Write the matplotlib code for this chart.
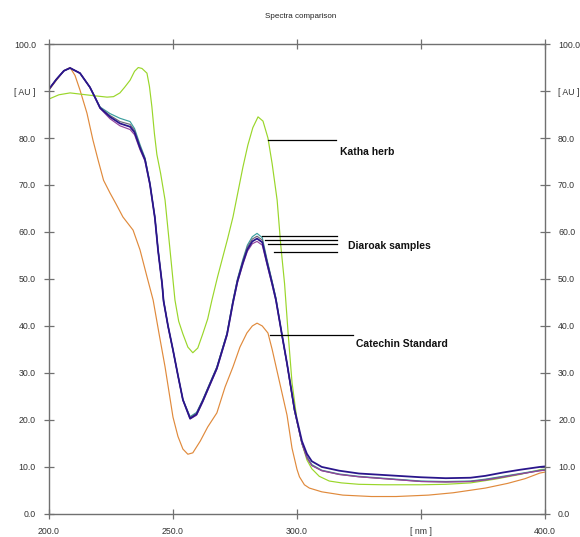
import matplotlib
matplotlib.use('Agg')
import matplotlib.pyplot as plt

# Katha herb (green)
katha_x = [200, 204, 208.5, 216.5, 223.4, 226, 228.6, 230.5, 232.7, 234.5, 236, 237.5, 239.5, 240.5,
           241.5, 242.5, 243.5, 245, 246.8, 248.8, 250.8, 252.3, 254, 256, 258, 260, 262, 264, 265.7,
           268, 270, 272, 274.2, 276.2, 278.2, 280.2, 282.2, 284.3, 286.3, 288.3, 290, 292, 293.5,
           295, 296.5, 298, 300, 302, 304, 306, 309, 313, 318, 325, 335, 350, 360, 370, 380, 390, 398, 400]
katha_y = [88.3, 89.2, 89.6, 89.1, 88.7, 88.8, 89.6, 90.8, 92.3, 94.2, 95.0, 94.8, 93.8, 91.0,
           86.6, 81.0, 76.5, 72.5, 66.8, 56.2, 45.5, 41.0, 38.3, 35.5, 34.3, 35.3, 38.3, 41.5, 45.5,
           50.5, 54.5, 58.5, 63.2, 68.5, 73.8, 78.5, 82.2, 84.5, 83.6, 80.0, 74.5, 66.8, 57.0,
           49.0, 38.0, 28.0, 20.0, 15.0, 11.5, 9.6, 8.0, 7.0, 6.6, 6.3, 6.2, 6.2, 6.3, 6.6, 7.4, 8.4, 9.4, 9.5]

# Diaroak samples (four runs on one wavelength grid)
dia_x = [200, 203, 206, 208.5, 212.5, 216.5, 218.5, 220.6, 224.6, 228.6, 232.7, 234.5, 236.7, 238.7,
         240.7, 242.7, 244, 245.6, 246.2, 248, 250, 252, 254, 256.9, 259.5, 262, 265, 267.7, 271.8,
         274.2, 276, 278.2, 280, 282, 283.9, 286, 287.9, 290, 291.5, 294, 296, 299, 302, 304, 306,
         310, 317, 325, 337.5, 350, 360, 370, 376, 383, 390, 398, 400]
dia_teal = [90.4, 92.5, 94.3, 94.9, 93.8, 90.8, 88.7, 86.6, 85.2, 84.2, 83.5, 82.0, 78.6, 75.8,
            70.4, 63.2, 56.2, 49.1, 45.5, 40.0, 34.9, 29.5, 24.3, 20.7, 21.6, 24.3, 28.0, 31.3, 38.5,
            45.5, 50.0, 54.2, 57.2, 59.0, 59.7, 58.8, 54.2, 49.5, 46.0, 38.0, 32.0, 22.0, 15.0, 12.2, 10.5,
            9.3, 8.5, 8.0, 7.5, 7.0, 6.9, 7.0, 7.4, 8.0, 8.6, 9.3, 9.4]
dia_gray = [90.4, 92.5, 94.3, 94.9, 93.8, 90.8, 88.7, 86.5, 84.8, 83.5, 82.9, 81.6, 78.2, 75.6,
            70.3, 63.1, 56.1, 49.0, 45.4, 40.0, 34.9, 29.5, 24.3, 20.5, 21.4, 24.2, 27.9, 31.2, 38.4,
            45.3, 49.8, 53.9, 56.8, 58.5, 59.1, 58.3, 53.9, 49.3, 45.8, 37.9, 31.9, 22.0, 15.0, 12.0, 10.3,
            9.2, 8.4, 7.9, 7.4, 6.9, 6.8, 6.9, 7.3, 7.9, 8.5, 9.2, 9.3]
dia_navy = [90.4, 92.5, 94.3, 94.9, 93.8, 90.8, 88.7, 86.4, 84.5, 83.1, 82.4, 81.2, 77.9, 75.4,
            70.2, 63.0, 56.0, 49.0, 45.3, 40.0, 34.9, 29.5, 24.3, 20.3, 21.2, 24.0, 27.7, 31.0, 38.2,
            45.0, 49.5, 53.5, 56.3, 58.0, 58.6, 57.8, 53.5, 49.0, 45.6, 38.0, 32.0, 22.3, 15.5, 12.8, 11.2,
            10.0, 9.2, 8.6, 8.2, 7.8, 7.6, 7.7, 8.1, 8.8, 9.4, 10.0, 10.1]
dia_purple = [90.4, 92.5, 94.3, 94.9, 93.8, 90.8, 88.7, 86.3, 84.1, 82.6, 81.8, 80.7, 77.5, 75.1,
              70.0, 62.9, 55.9, 48.9, 45.2, 39.9, 34.8, 29.4, 24.2, 20.2, 21.0, 23.8, 27.5, 30.8, 38.0,
              44.8, 49.2, 53.1, 55.9, 57.5, 58.0, 57.2, 53.1, 48.7, 45.4, 37.8, 31.8, 22.0, 15.0, 12.0, 10.3,
              9.2, 8.4, 7.9, 7.4, 6.9, 6.8, 6.9, 7.2, 7.8, 8.5, 9.2, 9.3]

# Catechin Standard (orange)
cat_x = [200, 203, 206, 208.5, 210.5, 212.5, 215.3, 217.7, 219.8, 222, 224.6, 227, 229.8, 233.9,
         236.7, 239.5, 242, 244.5, 246.8, 250, 252, 254, 256, 258, 261, 264, 267.7, 271, 274.2, 277,
         279.8, 282, 283.9, 286, 288.3, 290, 293, 296, 298, 300, 301, 303, 305, 310, 318.5, 330, 340,
         353, 363, 376, 385, 392, 398, 400]
cat_y = [90.2, 92.3, 94.3, 95.0, 93.3, 90.2, 85.3, 79.6, 75.3, 71.0, 68.3, 66.0, 63.2, 60.4,
         56.2, 50.5, 45.5, 38.0, 31.3, 20.6, 16.5, 13.8, 12.7, 13.0, 15.5, 18.5, 21.5, 27.0, 31.3, 35.5,
         38.5, 40.0, 40.6, 40.0, 38.5, 35.0, 28.0, 21.0, 14.0, 9.5, 7.9, 6.2, 5.5, 4.7, 4.0, 3.7, 3.7,
         4.0, 4.5, 5.5, 6.5, 7.5, 8.7, 8.9]

x_ticks = [200, 250, 300, 350, 400]
x_labels = ['200.0', '250.0', '300.0', '[ nm ]', '400.0']
y_ticks = [0, 10, 20, 30, 40, 50, 60, 70, 80, 90, 100]
y_labels = ['0.0', '10.0', '20.0', '30.0', '40.0', '50.0', '60.0', '70.0', '80.0', '[ AU ]', '100.0']

fig = plt.figure(figsize=(5.8, 5.37), dpi=100)
ax = fig.add_axes([0.0845, 0.043, 0.855, 0.875])

ax.plot(cat_x, cat_y, color='#e08a3c', lw=0.85)
ax.plot(katha_x, katha_y, color='#9ad62a', lw=0.85)
ax.plot(dia_x, dia_teal, color='#3a9e9e', lw=0.85)
ax.plot(dia_x, dia_gray, color='#6e6a78', lw=0.85)
ax.plot(dia_x, dia_purple, color='#93449e', lw=0.85)
ax.plot(dia_x, dia_navy, color='#2a168c', lw=1.3)

ax.set_xlim(200, 400)
ax.set_ylim(0, 100)
ax.set_xticks(x_ticks)
ax.set_xticklabels(x_labels)
ax.set_yticks(y_ticks)
ax.set_yticklabels(y_labels)
ax.tick_params(axis='both', direction='inout', length=7, width=0.9, color='#707070',
               labelsize=6.3, labelcolor='#333333', top=True, right=True,
               labelright=True, pad=6)
for lab in ax.get_xticklabels() + ax.get_yticklabels():
    lab.set_family('Liberation Sans')
for s in ax.spines.values():
    s.set_color('#707070')
    s.set_linewidth(1.0)

fig.suptitle('Spectra comparison', y=0.975, fontsize=5.8, family='Liberation Sans', color='#222222', x=0.518)

# leader lines and labels
lab_font = dict(family='Liberation Sans', fontweight='bold', fontsize=7.5, color='#111111')
ax.plot([288.3, 315.7], [79.6, 79.6], color='black', lw=0.9)
ax.text(317.5, 77.0, 'Katha herb', va='center', ha='left', **lab_font)
for x0, yv in zip([285.9, 287.2, 288.5, 290.8], [59.1, 58.3, 57.4, 55.7]):
    ax.plot([x0, 316], [yv, yv], color='black', lw=0.9)
ax.text(320.5, 57.0, 'Diaroak samples', va='center', ha='left', **lab_font)
ax.plot([289, 322.6], [38.1, 38.1], color='black', lw=0.9)
ax.text(324, 36.2, 'Catechin Standard', va='center', ha='left', **lab_font)

fig.savefig('out.png', dpi=100)
